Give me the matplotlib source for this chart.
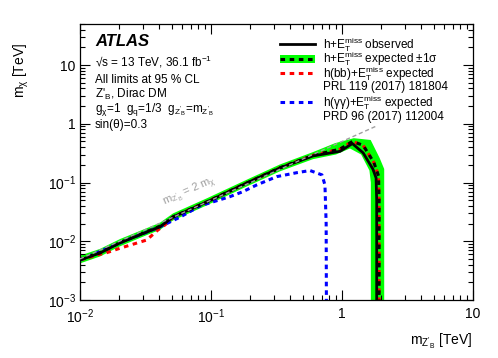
import matplotlib
matplotlib.use("Agg")
import matplotlib.pyplot as plt
import numpy as np
from matplotlib.lines import Line2D
from matplotlib.patches import Patch
from matplotlib.legend import Legend

plt.rcParams['font.family'] = ['Liberation Sans', 'DejaVu Sans']
plt.rcParams['mathtext.fontset'] = 'custom'
plt.rcParams['mathtext.rm'] = 'Liberation Sans'
plt.rcParams['mathtext.it'] = 'Liberation Sans:italic'
plt.rcParams['mathtext.bf'] = 'Liberation Sans:bold'

# ---------------- data (TeV) ----------------
obs_x = [0.01, 0.0142, 0.0202, 0.0325, 0.0407, 0.0513, 0.0932, 0.188, 0.336, 0.601, 0.966, 1.2, 1.45, 1.72, 1.82, 1.84, 1.84]
obs_y = [0.0048, 0.0063, 0.0094, 0.0144, 0.0176, 0.0259, 0.0467, 0.0984, 0.177, 0.284, 0.34, 0.46, 0.32, 0.17, 0.12, 0.05, 0.001]

exp_x = [0.01, 0.0142, 0.0202, 0.0325, 0.0407, 0.0513, 0.0932, 0.188, 0.336, 0.601, 0.966, 1.2, 1.45, 1.75, 1.9, 1.92, 1.92]
exp_y = [0.0049, 0.0064, 0.0095, 0.0147, 0.018, 0.026, 0.047, 0.098, 0.178, 0.29, 0.37, 0.50, 0.43, 0.22, 0.13, 0.05, 0.001]

band_up_x = [0.01, 0.0142, 0.0202, 0.0325, 0.0407, 0.0513, 0.0932, 0.188, 0.336, 0.601, 0.886, 1.23, 1.655, 1.94, 2.1, 2.1]
band_up_y = [0.0057, 0.0074, 0.0109, 0.0168, 0.0206, 0.0298, 0.054, 0.112, 0.203, 0.33, 0.468, 0.569, 0.53, 0.26, 0.17, 0.001]
band_dn_x = [0.01, 0.0142, 0.0202, 0.0325, 0.0407, 0.0513, 0.0932, 0.188, 0.336, 0.601, 0.9, 1.15, 1.4, 1.62, 1.66, 1.66]
band_dn_y = [0.0042, 0.0055, 0.0082, 0.0128, 0.0156, 0.0226, 0.041, 0.086, 0.155, 0.25, 0.30, 0.38, 0.30, 0.16, 0.10, 0.001]

bb_x = [0.01, 0.0142, 0.01552, 0.0202, 0.0323, 0.0394, 0.0446, 0.0513, 0.0932, 0.188, 0.336, 0.601, 0.966, 1.2, 1.45, 1.75, 1.9, 1.92, 1.92]
bb_y = [0.0048, 0.0060, 0.00625, 0.00761, 0.0105, 0.0156, 0.019, 0.026, 0.047, 0.098, 0.178, 0.29, 0.37, 0.50, 0.43, 0.22, 0.13, 0.05, 0.001]

gg_x = [0.01, 0.02, 0.0407, 0.058, 0.0824, 0.1396, 0.1754, 0.2233, 0.3177, 0.451, 0.570, 0.703, 0.741, 0.757, 0.76]
gg_y = [0.0048, 0.0093, 0.0176, 0.0257, 0.0400, 0.0575, 0.0700, 0.091, 0.126, 0.147, 0.160, 0.135, 0.091, 0.02, 0.001]

diag_x = [0.01, 1.8]
diag_y = [x / 2 for x in diag_x]

xticks = [0.01, 0.1, 1, 10]
xticklabels = [r'$\mathregular{10^{-2}}$', r'$\mathregular{10^{-1}}$', '1', '10']
yticks = [0.001, 0.01, 0.1, 1, 10]
yticklabels = [r'$\mathregular{10^{-3}}$', r'$\mathregular{10^{-2}}$', r'$\mathregular{10^{-1}}$', '1', '10']

# ---------------- figure ----------------
fig = plt.figure(figsize=(4.98, 3.58), dpi=100)
ax = fig.add_axes([80/498, 1-300/358, 393/498, 276/358])
ax.set_xscale('log')
ax.set_yscale('log')
ax.set_xlim(0.01, 10)
ax.set_ylim(1e-3, 50)

green = '#00ff00'
band_px = list(band_up_x) + list(band_dn_x[::-1])
band_py = list(band_up_y) + list(band_dn_y[::-1])
ax.fill(band_px, band_py, color=green, lw=0, zorder=1)

ax.plot(bb_x, bb_y, color='#ff0000', lw=2.2, dashes=(1.5, 1.5), zorder=2)
ax.plot(gg_x, gg_y, color='#0000ff', lw=2.2, dashes=(1.5, 1.3), zorder=3)
ax.plot(exp_x, exp_y, color='black', lw=2.2, dashes=(1.5, 1.5), zorder=4)
ax.plot(obs_x, obs_y, color='black', lw=2.0, zorder=5)
ax.plot(diag_x, diag_y, color='#a0a0a0', lw=1.0, dashes=(3, 2), zorder=6)

ax.text(0.069, 0.069, r"$\mathregular{m_{Z'_{B}}}$ = 2 $\mathregular{m_{χ}}$", transform=ax.transData,
        color='#a0a0a0', fontsize=8, rotation=24, ha='center', va='center', rotation_mode='anchor')

ax.set_xticks(xticks)
ax.set_xticklabels(xticklabels)
ax.set_yticks(yticks)
ax.set_yticklabels(yticklabels)
ax.tick_params(which='both', direction='in', top=True, right=True, labelsize=10)
ax.tick_params(which='major', length=7, width=0.8)
ax.tick_params(which='minor', length=3.5, width=0.8)
ax.tick_params(axis='x', pad=5)
ax.tick_params(axis='y', pad=3)
for s in ax.spines.values():
    s.set_linewidth(0.9)

ax.set_xlabel(r"$\mathregular{m_{Z'_{B}}}$ [TeV]", fontsize=10, loc='right')
ax.xaxis.set_label_coords(1.0, -0.115)
ax.set_ylabel(r"$\mathregular{m_{χ}}$ [TeV]", fontsize=10, loc='top')
ax.yaxis.set_label_coords(-0.125, 0.93)

# text block
tx = 0.038
ax.text(tx, 0.936, 'ATLAS', transform=ax.transAxes, fontsize=12, fontweight='bold', fontstyle='italic', va='center')
ax.text(tx, 0.864, r"√s = 13 TeV, 36.1 fb$\mathregular{^{-1}}$", transform=ax.transAxes, fontsize=8.5, va='center')
ax.text(tx, 0.797, 'All limits at 95 % CL', transform=ax.transAxes, fontsize=8.5, va='center')
ax.text(tx, 0.743, r"Z'$\mathregular{_{B}}$, Dirac DM", transform=ax.transAxes, fontsize=8.5, va='center')
ax.text(tx, 0.692, r"$\mathregular{g_{χ}}$=1  $\mathregular{g_{q}}$=1/3  $\mathregular{g_{Z'_{B}}}$=$\mathregular{m_{Z'_{B}}}$",
        transform=ax.transAxes, fontsize=8.5, va='center')
ax.text(tx, 0.634, 'sin(θ)=0.3', transform=ax.transAxes, fontsize=8.5, va='center')

# legend (one row per entry to control spacing)
h_obs = Line2D([], [], color='black', lw=2.0)
h_exp = (Patch(facecolor=green, edgecolor='none'), Line2D([], [], color='black', lw=2.2, dashes=(1.5, 1.5)))
h_bb = Line2D([], [], color='#ff0000', lw=2.2, dashes=(1.5, 1.5))
h_gg = Line2D([], [], color='#0000ff', lw=2.2, dashes=(1.5, 1.5))
entries = [(h_obs, r"h+$\mathregular{E_{T}^{miss}}$ observed", 0.925),
           (h_exp, r"h+$\mathregular{E_{T}^{miss}}$ expected ±1σ", 0.873),
           (h_bb, r"h(bb)+$\mathregular{E_{T}^{miss}}$ expected", 0.820),
           (h_gg, r"h(γγ)+$\mathregular{E_{T}^{miss}}$ expected", 0.716)]
for h, lab, yy in entries:
    lg = Legend(ax, [h], [lab], loc='center left', bbox_to_anchor=(0.509, yy), frameon=False,
                fontsize=8.5, handlelength=3.0, handletextpad=0.6, borderpad=0, borderaxespad=0)
    ax.add_artist(lg)
ax.text(0.618, 0.771, "PRL 119 (2017) 181804", transform=ax.transAxes, fontsize=8.5, va='center')
ax.text(0.618, 0.664, "PRD 96 (2017) 112004", transform=ax.transAxes, fontsize=8.5, va='center')

fig.savefig('out.png', dpi=100)
